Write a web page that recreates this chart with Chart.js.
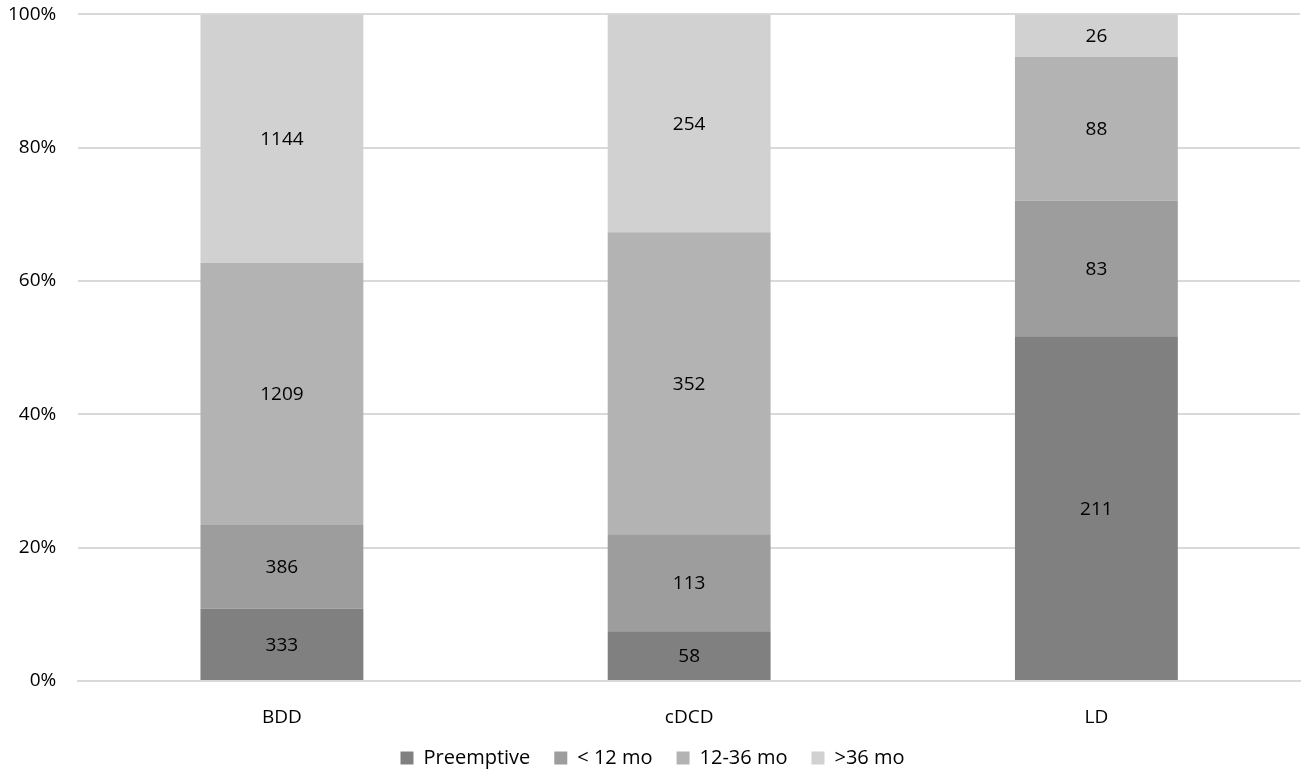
<!DOCTYPE html>
<html>
<head>
<meta charset="utf-8">
<script src="https://cdn.jsdelivr.net/npm/chart.js@4/dist/chart.umd.min.js"></script>
<style>
  html, body { margin: 0; padding: 0; background: #fff; overflow: hidden; }
  #wrap { width: 1306px; height: 776px; }
</style>
</head>
<body>
<div id="wrap"><canvas id="myChart"></canvas></div>
<script>
const categories = ['BDD', 'cDCD', 'LD'];
const seriesNames = ['Preemptive', '< 12 mo', '12-36 mo', '>36 mo'];
const preemptive = [333, 58, 211];
const under12 = [386, 113, 83];
const mo12to36 = [1209, 352, 88];
const over36 = [1144, 254, 26];
const yTicks = [0, 20, 40, 60, 80, 100];
const colors = ['#808080', '#9d9d9d', '#b3b3b3', '#d1d1d1'];

const counts = [preemptive, under12, mo12to36, over36];
const totals = categories.map((c, i) => counts.reduce((s, arr) => s + arr[i], 0));

const font = "'Open Sans', 'Liberation Sans', sans-serif";
const fsize = 19;

// draws the raw count in the middle of each segment
const countLabels = {
  id: 'countLabels',
  afterDatasetsDraw(chart) {
    const ctx = chart.ctx;
    ctx.save();
    ctx.font = fsize + 'px ' + font;
    ctx.fillStyle = '#000';
    ctx.textAlign = 'center';
    ctx.textBaseline = 'middle';
    chart.data.datasets.forEach((ds, di) => {
      chart.getDatasetMeta(di).data.forEach((bar, i) => {
        const mid = (bar.y + bar.base) / 2;
        ctx.fillText(String(ds.counts[i]), bar.x, mid + 1);
      });
    });
    ctx.restore();
  }
};

new Chart(document.getElementById('myChart'), {
  type: 'bar',
  data: {
    labels: categories,
    datasets: counts.map((arr, k) => ({
      label: seriesNames[k],
      counts: arr,
      data: arr.map((v, i) => v / totals[i] * 100),
      backgroundColor: colors[k],
      borderWidth: 0,
      barPercentage: 0.4,
      categoryPercentage: 1
    }))
  },
  options: {
    responsive: true,
    maintainAspectRatio: false,
    animation: false,
    layout: { padding: { top: 0, right: 6, left: 5, bottom: 0 } },
    plugins: {
      tooltip: { enabled: false },
      legend: {
        position: 'bottom',
        maxHeight: 52,
        labels: {
          font: { family: font, size: 20 },
          color: '#000',
          boxWidth: 13,
          boxHeight: 13,
          padding: 24
        }
      }
    },
    scales: {
      x: {
        stacked: true,
        afterFit(axis) { axis.height = 43; },
        grid: { display: false, drawTicks: false },
        border: { display: true, color: '#d9d9d9', width: 2 },
        ticks: { font: { family: font, size: fsize }, color: '#000', padding: 25 }
      },
      y: {
        stacked: true,
        min: 0,
        max: 100,
        afterBuildTicks(axis) { axis.ticks = yTicks.map(v => ({ value: v })); },
        grid: { color: '#d9d9d9', lineWidth: 2, drawTicks: true, tickLength: 19, tickColor: 'rgba(0,0,0,0)' },
        border: { display: false },
        ticks: {
          font: { family: font, size: fsize },
          color: '#000',
          padding: 3,
          callback: v => v + '%'
        }
      }
    }
  },
  plugins: [countLabels]
});
</script>
</body>
</html>
